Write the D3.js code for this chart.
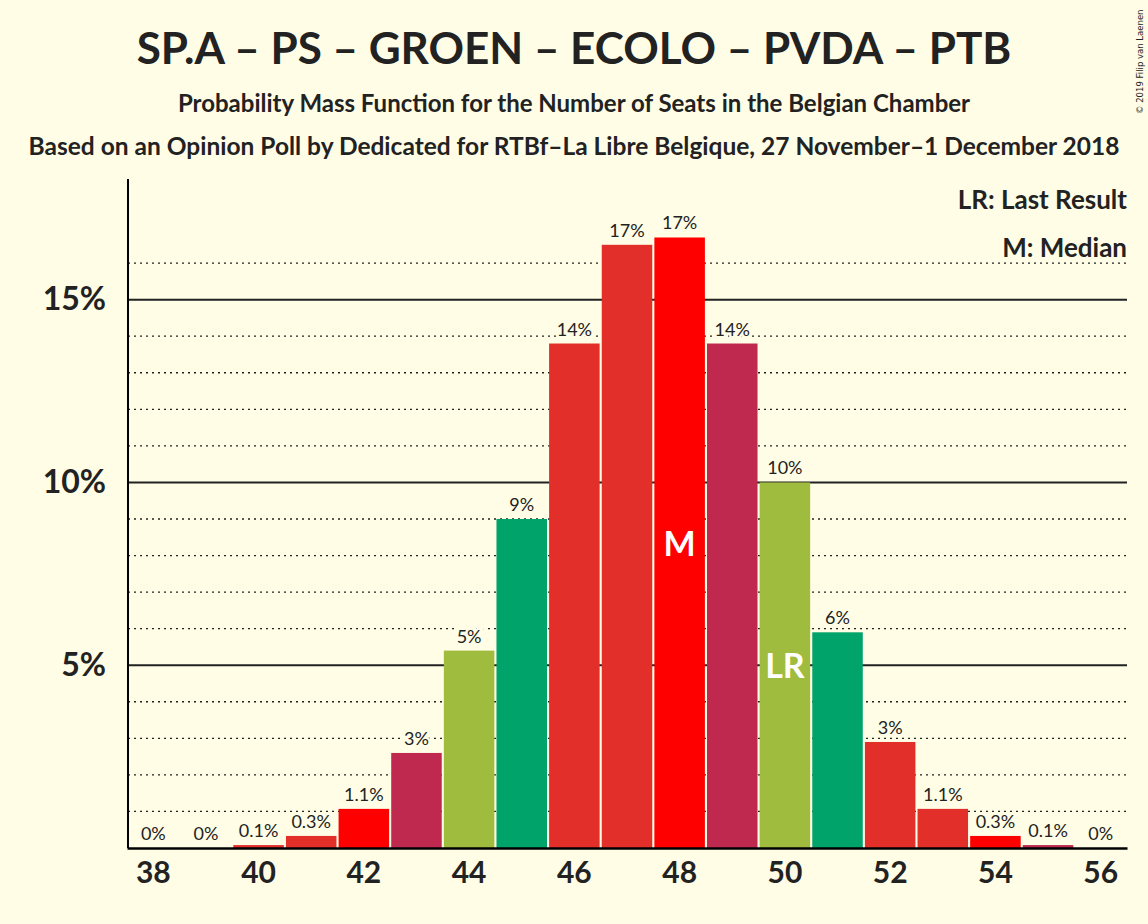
<!DOCTYPE html>
<html><head><meta charset="utf-8">
<script src="https://cdn.jsdelivr.net/npm/d3@7"></script>
<style>body{margin:0;background:#fffde6;} text{font-family:Lato,"Open Sans",sans-serif;}</style>
</head><body>
<script>
// données
const sieges = [38,39,40,41,42,43,44,45,46,47,48,49,50,51,52,53,54,55,56];
const probas = [0,0,0.08,0.33,1.07,2.6,5.4,9.0,13.8,16.5,16.7,13.8,10.0,5.9,2.9,1.07,0.33,0.08,0];
const etiquettes = ["0%","0%","0.1%","0.3%","1.1%","3%","5%","9%","14%","17%","17%","14%","10%","6%","3%","1.1%","0.3%","0.1%","0%"];
const couleurs = ["#e32f2a","#ff0000","#e32f2a","#e32f2a","#ff0000","#c0294f","#a0bc3f","#00a36a","#e32f2a","#e32f2a","#ff0000","#c0294f","#a0bc3f","#00a36a","#e32f2a","#e32f2a","#ff0000","#c0294f","#a0bc3f"];
const ticksX = [38,40,42,44,46,48,50,52,54,56];
const ticksY = [5,10,15];
const mediane = 48, dernierResultat = 50;

const largeur = 1148, hauteur = 924;
const fond = "#fffde6";
const svg = d3.select("body").append("svg").attr("width", largeur).attr("height", hauteur);
svg.append("rect").attr("width", largeur).attr("height", hauteur).attr("fill", fond);

const x = d3.scaleBand().domain(sieges).range([127, 1127]).paddingInner(0.04).paddingOuter(0.02);
const y = d3.scaleLinear().domain([0, 18.3]).range([848, 179]);

// grille pointillée
svg.append("g").selectAll("line").data(d3.range(1, 17)).join("line")
  .attr("x1", 128).attr("x2", 1127).attr("y1", d => y(d)).attr("y2", d => y(d))
  .attr("stroke", "#222").attr("stroke-width", d => d % 5 === 0 ? 2 : 1.3)
  .attr("stroke-dasharray", d => d % 5 === 0 ? null : "2,4");

// barres
svg.append("g").selectAll("rect").data(sieges).join("rect")
  .attr("x", d => x(d)).attr("width", x.bandwidth())
  .attr("y", (d, i) => y(probas[i])).attr("height", (d, i) => y(0) - y(probas[i]))
  .attr("fill", (d, i) => couleurs[i]);

// étiquettes des barres
svg.append("g").selectAll("text").data(sieges).join("text")
  .attr("x", d => x(d) + x.bandwidth() / 2).attr("y", (d, i) => y(probas[i]) - 8)
  .attr("text-anchor", "middle").attr("font-size", 18).attr("fill", "#222")
  .attr("stroke", fond).attr("stroke-width", 5).attr("paint-order", "stroke")
  .text((d, i) => etiquettes[i]);

// M et LR
const im = sieges.indexOf(mediane), ilr = sieges.indexOf(dernierResultat);
svg.append("text").attr("x", x(mediane) + x.bandwidth() / 2).attr("y", y(probas[im] * 0.5) + 13)
  .attr("text-anchor", "middle").attr("font-size", 34).attr("font-weight", "bold").attr("fill", "white").text("M");
svg.append("text").attr("x", x(dernierResultat) + x.bandwidth() / 2).attr("y", y(probas[ilr] * 0.5) + 13)
  .attr("text-anchor", "middle").attr("font-size", 34).attr("font-weight", "bold").attr("fill", "white").text("LR");

// axes
const axeX = svg.append("g").attr("transform", "translate(0,848)")
  .call(d3.axisBottom(x).tickValues(ticksX).tickSize(0).tickPadding(14));
axeX.select(".domain").attr("stroke", "#000").attr("stroke-width", 2.5);
axeX.selectAll("text").attr("font-size", 30).attr("font-weight", "bold").attr("fill", "#222")
  .style("font-family", "Lato,sans-serif");

const axeY = svg.append("g").attr("transform", "translate(128,0)")
  .call(d3.axisLeft(y).tickValues(ticksY).tickFormat(d => d + "%").tickSize(0).tickPadding(22));
axeY.select(".domain").attr("d", `M0,${y(18.3)}V848`).attr("stroke", "#000").attr("stroke-width", 2);
axeY.selectAll("text").attr("font-size", 32).attr("font-weight", "bold").attr("fill", "#222")
  .style("font-family", "Lato,sans-serif");

// titres
svg.append("text").attr("x", 574).attr("y", 64).attr("text-anchor", "middle")
  .attr("font-size", 44).attr("font-weight", "bold").attr("fill", "#222").text("SP.A – PS – GROEN – ECOLO – PVDA – PTB");
svg.append("text").attr("x", 574).attr("y", 112).attr("text-anchor", "middle")
  .attr("font-size", 24).attr("font-weight", "bold").attr("fill", "#222").text("Probability Mass Function for the Number of Seats in the Belgian Chamber");
svg.append("text").attr("x", 574).attr("y", 155).attr("text-anchor", "middle")
  .attr("font-size", 24.5).attr("font-weight", "bold").attr("fill", "#222").text("Based on an Opinion Poll by Dedicated for RTBf–La Libre Belgique, 27 November–1 December 2018");

// légende
svg.append("text").attr("x", 1127).attr("y", 209).attr("text-anchor", "end")
  .attr("font-size", 26).attr("font-weight", "bold").attr("fill", "#222")
  .attr("stroke", fond).attr("stroke-width", 6).attr("paint-order", "stroke").text("LR: Last Result");
svg.append("text").attr("x", 1127).attr("y", 257).attr("text-anchor", "end")
  .attr("font-size", 26).attr("font-weight", "bold").attr("fill", "#222")
  .attr("stroke", fond).attr("stroke-width", 6).attr("paint-order", "stroke").text("M: Median");

svg.append("text").attr("transform", "translate(1143,114) rotate(-90)")
  .attr("font-size", 8.5).attr("fill", "#222").style("font-family", "DejaVu Sans,sans-serif").text("© 2019 Filip van Laenen");
</script>
</body></html>
